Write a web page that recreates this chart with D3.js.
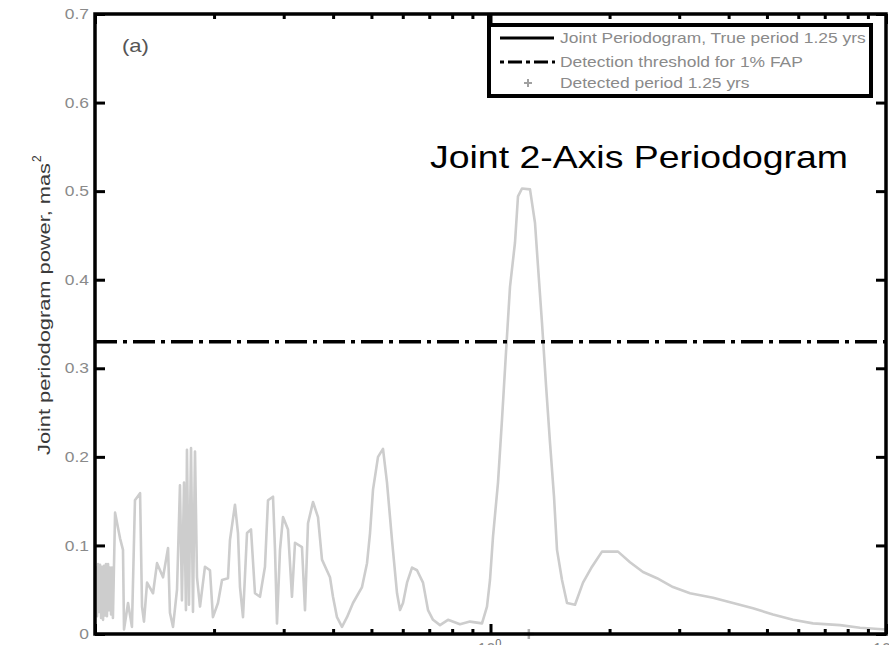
<!DOCTYPE html>
<html>
<head>
<meta charset="utf-8">
<script src="https://cdn.jsdelivr.net/npm/d3@7"></script>
<style>
  html, body { margin: 0; padding: 0; background: #fff; overflow: hidden; }
  svg { display: block; }
  text { font-family: "Liberation Sans", Arial, Helvetica, sans-serif; }
</style>
</head>
<body>
<svg id="chart" width="889" height="645"></svg>
<script>
// ---- data ----
const periods = [
  0.1, 0.1006, 0.1012, 0.1018, 0.1024, 0.1030, 0.1036, 0.1042, 0.1048, 0.1054,
  0.1060, 0.1066, 0.1072, 0.1079, 0.1085, 0.1091, 0.1098, 0.1104,
  0.1110, 0.1124, 0.1157, 0.1177, 0.1184, 0.1212, 0.1240, 0.1262, 0.1300, 0.1315,
  0.1330, 0.1354, 0.1402, 0.1435, 0.1486, 0.1530, 0.1547, 0.1575, 0.1612, 0.1640,
  0.1659, 0.1679, 0.1698, 0.1708, 0.1728, 0.1749, 0.1769, 0.1790, 0.1811, 0.1843,
  0.1897, 0.1953, 0.1987, 0.2046, 0.2095, 0.2169, 0.2194, 0.2259, 0.2299, 0.2326,
  0.2367, 0.2423, 0.2480, 0.2538, 0.2613, 0.2690, 0.2738, 0.2819, 0.2852, 0.2885,
  0.2936, 0.2988, 0.3076, 0.3148, 0.3204, 0.3337, 0.3396, 0.3456, 0.3558, 0.3663,
  0.3749, 0.3928, 0.3997, 0.4091, 0.4212, 0.4337, 0.4491, 0.4733, 0.4873, 0.4959,
  0.5046, 0.5195, 0.5348, 0.5474, 0.5636, 0.5803, 0.5905, 0.6009, 0.6151, 0.6332,
  0.6519, 0.6751, 0.6950, 0.7156, 0.7453, 0.7808, 0.8372, 0.8874, 0.9518, 0.9798,
  0.9971, 1.0147, 1.0446, 1.0692, 1.0944, 1.1202, 1.1533, 1.1736, 1.2013, 1.2586,
  1.2958, 1.3186, 1.3497, 1.3815, 1.4140, 1.4474, 1.4729, 1.5164, 1.5612, 1.6356,
  1.7135, 1.8057, 1.9138, 2.1008, 2.2530, 2.4302, 2.6363, 2.8934, 3.1950, 3.6528,
  4.1037, 4.6103, 5.1794, 5.8187, 6.5368, 7.6514, 8.5959, 10
];
const power = [
  0.061, 0.075, 0.020, 0.079, 0.025, 0.078, 0.018, 0.076, 0.016, 0.077,
  0.021, 0.079, 0.020, 0.079, 0.027, 0.075, 0.022, 0.075,
  0.018, 0.137, 0.108, 0.095, 0.005, 0.035, 0.008, 0.151, 0.159, 0.031,
  0.014, 0.058, 0.046, 0.080, 0.064, 0.097, 0.024, 0.008, 0.050, 0.168,
  0.038, 0.171, 0.027, 0.208, 0.033, 0.210, 0.025, 0.206, 0.064, 0.031,
  0.076, 0.072, 0.019, 0.035, 0.061, 0.063, 0.106, 0.146, 0.114, 0.053,
  0.019, 0.114, 0.118, 0.046, 0.042, 0.076, 0.151, 0.155, 0.095, 0.012,
  0.095, 0.132, 0.118, 0.042, 0.103, 0.098, 0.027, 0.125, 0.149, 0.132,
  0.084, 0.064, 0.042, 0.019, 0.008, 0.019, 0.035, 0.053, 0.080, 0.114,
  0.163, 0.200, 0.209, 0.171, 0.106, 0.046, 0.027, 0.035, 0.058, 0.075,
  0.072, 0.058, 0.027, 0.016, 0.010, 0.016, 0.011, 0.014, 0.012, 0.031,
  0.061, 0.110, 0.171, 0.242, 0.318, 0.392, 0.442, 0.494, 0.503, 0.502,
  0.464, 0.415, 0.351, 0.281, 0.216, 0.155, 0.095, 0.061, 0.035, 0.033,
  0.058, 0.076, 0.093, 0.093, 0.081, 0.070, 0.063, 0.053, 0.046, 0.041,
  0.035, 0.029, 0.022, 0.016, 0.012, 0.010, 0.007, 0.005
];
const threshold = 0.33;           // detection threshold for 1% FAP
const detectedPeriod = 1.25;      // yrs
const detectedPower = 0;
const yTicks = [0, 0.1, 0.2, 0.3, 0.4, 0.5, 0.6, 0.7];
const yTickLabels = ["0", "0.1", "0.2", "0.3", "0.4", "0.5", "0.6", "0.7"];
const xMajorTicks = [0.1, 1, 10];
const xMinorTicks = [0.2, 0.3, 0.4, 0.5, 0.6, 0.7, 0.8, 0.9, 2, 3, 4, 5, 6, 7, 8, 9];
const xTickLabels = [{v: 1, base: "10", exp: "0"}, {v: 10, base: "10", exp: "1"}];
const legendLabels = [
  "Joint Periodogram, True period 1.25 yrs",
  "Detection threshold for 1% FAP",
  "Detected period 1.25 yrs"
];
const titleText = "Joint 2-Axis Periodogram";
const panelLabel = "(a)";
const yLabel = "Joint periodogram power, mas";

// ---- layout ----
const L = 95, R = 886, T = 14, B = 634;
const svg = d3.select("#chart");
const x = d3.scaleLog().domain([0.1, 10]).range([L, R]);
const y = d3.scaleLinear().domain([0, 0.7]).range([B, T]);
const STRETCH = 1.16;
function stretch(sel, k) {
  sel.each(function () {
    const w = this.getComputedTextLength();
    this.setAttribute("textLength", w * k);
    this.setAttribute("lengthAdjust", "spacingAndGlyphs");
  });
}

// periodogram curve
const pts = periods.map((p, i) => [p, power[i]]);
svg.append("path")
  .datum(pts)
  .attr("fill", "none")
  .attr("stroke", "#cdcdcd")
  .attr("stroke-width", 2.6)
  .attr("stroke-linejoin", "round")
  .attr("d", d3.line().x(d => x(d[0])).y(d => y(d[1])));

// threshold line
svg.append("line")
  .attr("x1", L).attr("x2", R)
  .attr("y1", y(threshold)).attr("y2", y(threshold))
  .attr("stroke", "#000").attr("stroke-width", 3.5)
  .attr("stroke-dasharray", "22,6,4,6");

// detected period marker
function plus(g, cx, cy, s, color, w) {
  g.append("path")
    .attr("d", `M${cx - s},${cy}H${cx + s}M${cx},${cy - s}V${cy + s}`)
    .attr("stroke", color).attr("stroke-width", w).attr("fill", "none");
}
plus(svg, x(detectedPeriod), y(detectedPower), 5, "#b0b0b0", 2.5);

// axes: ticks
const gAx = svg.append("g");
function ticksAxis(axisFn, scale, vals, size, transform) {
  const g = gAx.append("g").attr("transform", transform)
    .call(axisFn(scale).tickValues(vals).tickSize(size).tickFormat(""));
  g.select(".domain").remove();
  g.selectAll(".tick line").attr("stroke", "#000").attr("stroke-width", 3);
  return g;
}
ticksAxis(d3.axisBottom, x, xMinorTicks, -5, `translate(0,${B})`);
ticksAxis(d3.axisBottom, x, xMajorTicks, -10, `translate(0,${B})`);
ticksAxis(d3.axisTop, x, xMinorTicks, -5, `translate(0,${T})`);
ticksAxis(d3.axisTop, x, xMajorTicks, -10, `translate(0,${T})`);
ticksAxis(d3.axisLeft, y, yTicks, -10, `translate(${L},0)`);
ticksAxis(d3.axisRight, y, yTicks, -10, `translate(${R},0)`);

// frame
gAx.append("rect")
  .attr("x", L).attr("y", T).attr("width", R - L).attr("height", B - T)
  .attr("fill", "none").attr("stroke", "#000").attr("stroke-width", 3.5);

// y tick labels
const yl = svg.append("g").selectAll("text").data(yTicks).join("text")
  .attr("x", 89).attr("y", d => y(d)).attr("dy", "0.34em")
  .attr("text-anchor", "end").attr("font-size", 15).attr("fill", "#8a8a8a")
  .text((d, i) => yTickLabels[i]);
stretch(yl, STRETCH);

// x tick labels (mostly cut off at the bottom edge, as in the reference)
xTickLabels.forEach(t => {
  const tx = svg.append("text").attr("x", x(t.v) - 13).attr("y", 655)
    .attr("font-size", 16).attr("fill", "#8a8a8a");
  tx.append("tspan").text(t.base);
  tx.append("tspan").attr("dy", -8).attr("font-size", 11).attr("fill", "#666").text(t.exp);
});

// y axis label
const yg = svg.append("g").attr("transform", "translate(50,455) rotate(-90)");
yg.append("text").attr("x", 0).attr("y", 0)
  .attr("font-size", 17).attr("fill", "#3a3a3a")
  .attr("textLength", 292).attr("lengthAdjust", "spacingAndGlyphs")
  .text(yLabel);
yg.append("text").attr("x", 293).attr("y", -9)
  .attr("font-size", 12).attr("fill", "#3a3a3a").text("2");

// panel label
const pl = svg.append("text").attr("x", 122).attr("y", 52)
  .attr("font-size", 19).attr("fill", "#555").text(panelLabel);
stretch(pl, STRETCH);

// title
svg.append("text").attr("x", 430).attr("y", 168)
  .attr("font-size", 32).attr("fill", "#000")
  .attr("textLength", 418).attr("lengthAdjust", "spacingAndGlyphs")
  .text(titleText);

// legend
const lg = svg.append("g");
lg.append("path")
  .attr("d", "M489,14V96H871V25H489")
  .attr("fill", "#fff").attr("stroke", "#000").attr("stroke-width", 4);
const rowY = [38, 62, 83];
lg.append("line").attr("x1", 500).attr("x2", 554).attr("y1", rowY[0]).attr("y2", rowY[0])
  .attr("stroke", "#000").attr("stroke-width", 3);
lg.append("line").attr("x1", 500).attr("x2", 555).attr("y1", rowY[1]).attr("y2", rowY[1])
  .attr("stroke", "#000").attr("stroke-width", 3).attr("stroke-dasharray", "4,4,14,4");
plus(lg, 528, rowY[2], 4, "#a0a0a0", 2);
const lt = lg.selectAll("text.leg").data(legendLabels).join("text")
  .attr("class", "leg")
  .attr("x", 560).attr("y", (d, i) => rowY[i] + 5)
  .attr("font-size", 15).attr("fill", "#8a8a8a")
  .text(d => d);
stretch(lt, STRETCH);
</script>
</body>
</html>
